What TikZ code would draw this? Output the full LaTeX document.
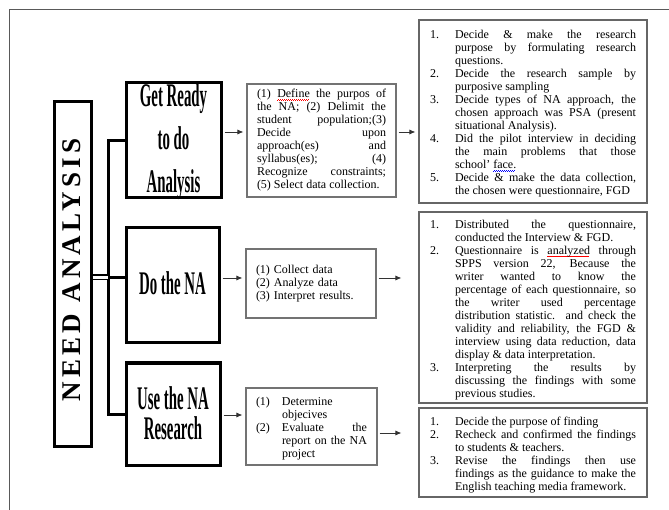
\documentclass[tikz,border=0pt]{standalone}
\usepackage{fontspec}
\setmainfont{Liberation Serif}
\newfontfamily\tallfont[FakeStretch=0.45]{Liberation Serif}
\newfontfamily\spacefont[LetterSpace=16]{Liberation Serif}
\usetikzlibrary{arrows.meta}

\hbadness=10000
\newcommand{\stepitem}[3][25pt]{\par\noindent\hangindent=#1\hangafter=1\makebox[#1][l]{#2}#3\par}
\newsavebox{\markbox}
\newcommand{\spellmark}[2]{\sbox{\markbox}{#2}\rlap{\textcolor{#1}{\lower2.6pt\hbox to \wd\markbox{%
  \leaders\hbox{\rule[0pt]{1pt}{0.6pt}\rule[0.7pt]{1pt}{0.6pt}}\hfill}}}\usebox{\markbox}}

\tikzset{
  frame/.style={draw=black!65, line width=1pt},
  bigbox/.style={draw, line width=3pt, inner sep=0pt},
  bigtxt/.style={font=\tallfont\bfseries\fontsize{33}{43}\selectfont, align=center, inner sep=0pt},
  planbox/.style={draw=black!55, line width=1.1pt, inner xsep=10pt, inner ysep=2pt,
    font=\fontsize{12}{13}\selectfont},
  stepsbox/.style={draw=black!60, line width=1.1pt, inner xsep=11pt, inner ysep=2pt,
    text width=206pt, align=justify, font=\fontsize{12}{13}\selectfont},
  conn/.style={line width=3pt},
  twin/.style={double, line width=1.8pt, double distance=2.4pt},
  arr/.style={-{Latex[length=6pt,width=5pt]}, line width=0.8pt, black!80,
    shorten <=2pt}
}

\begin{document}
\begin{tikzpicture}[x=1pt,y=-1pt]
  \useasboundingbox (0,0) rectangle (669,510);
  \draw[frame] (9,510) |- (669,10);

  % left column
  \node[bigbox, minimum width=37pt, minimum height=344pt] (na) at (72.5,274) {};
  \node[rotate=90, inner sep=0pt, font=\spacefont\bfseries\fontsize{27}{27}\selectfont]
    (natxt) at (71.5,270) {NEED ANALYSIS};

  \node[bigbox, minimum width=95pt, minimum height=115pt] (ready) at (173.5,140.5) {};
  \node[bigtxt] (readytxt) at (173.5,142) {Get Ready\\to do\\Analysis};
  \node[bigbox, minimum width=93pt, minimum height=115pt] (do) at (172.5,285.5) {};
  \node[bigtxt] (dotxt) at (172.5,283) {Do the NA};
  \node[bigbox, minimum width=94pt, minimum height=102pt] (use) at (173,414) {};
  \node[bigtxt, font=\tallfont\bfseries\fontsize{33}{30}\selectfont]
    (usetxt) at (173,413) {Use the NA\\Research};

  \coordinate (hub) at (108,277.5);
  \draw[conn] (ready.west) -| (hub) |- (use.west);
  \draw[conn] (hub) -- (do.west |- hub);
  \draw[twin] (na.east |- hub) -- (hub);

  % middle column
  \node[planbox, minimum width=149pt, minimum height=113pt, text width=129pt, align=justify]
    (plan) at (321.5,140.5) {(1) \spellmark{red}{Define} the purpos of\linebreak
      the NA; (2) Delimit the\linebreak
      student population;(3)\linebreak
      Decide upon\linebreak
      approach(es) and\linebreak
      syllabus(es); (4)\linebreak
      Recognize constraints;\linebreak
      (5) Select data collection.};
  \node[planbox, minimum width=130pt, minimum height=69pt, text width=110pt, align=left]
    (collect) at (311,283.5) {(1) Collect data\\(2) Analyze data\\(3) Interpret results.};
  \node[planbox, minimum width=131pt, minimum height=77pt, text width=111pt, align=justify]
    (apply) at (311.5,426.5) {\stepitem[26pt]{(1)}{Determine\linebreak objecives}%
      \stepitem[26pt]{(2)}{Evaluate the\linebreak report on the NA\linebreak project}};

  % right column
  \node[stepsbox, minimum height=183pt] (steps1) at (533,111.5) {%
    \stepitem{1.}{Decide \& make the research\linebreak purpose by formulating research\linebreak questions.}%
    \stepitem{2.}{Decide the research sample by\linebreak purposive sampling}%
    \stepitem{3.}{Decide types of NA approach, the\linebreak chosen approach was PSA (present\linebreak situational Analysis).}%
    \stepitem{4.}{Did the pilot interview in deciding\linebreak the main problems that those\linebreak school' \spellmark{blue}{face.}}%
    \stepitem{5.}{Decide \& make the data collection,\linebreak the chosen were questionnaire, FGD}};
  \node[stepsbox, minimum height=191pt] (steps2) at (533,307.5) {%
    \stepitem{1.}{Distributed the questionnaire,\linebreak conducted the Interview \& FGD.}%
    \stepitem{2.}{Questionnaire is \spellmark{red}{analyzed} through\linebreak SPPS version 22, Because the\linebreak
      writer wanted to know the\linebreak percentage of each questionnaire, so\linebreak
      the writer used percentage\linebreak distribution statistic. and check the\linebreak
      validity and reliability, the FGD \&\linebreak interview using data reduction, data\linebreak
      display \& data interpretation.}%
    \stepitem{3.}{Interpreting the results by\linebreak discussing the findings with some\linebreak previous studies.}};
  \node[stepsbox, minimum height=89pt] (steps3) at (533,452.5) {%
    \stepitem{1.}{Decide the purpose of finding}%
    \stepitem{2.}{Recheck and confirmed the findings\linebreak to students \& teachers.}%
    \stepitem{3.}{Revise the findings then use\linebreak findings as the guidance to make the\linebreak English teaching media framework.}};

  % arrows
  \draw[arr, shorten >=3pt] ([yshift=8.5pt]ready.east) -- ([yshift=8.5pt]plan.west);
  \draw[arr, shorten >=3pt] ([yshift=8.5pt]plan.east) -- ([yshift=-20.5pt]steps1.west);
  \draw[arr, shorten >=3pt] ([yshift=7.5pt]do.east) -- ([yshift=5.5pt]collect.west);
  \draw[arr, shorten >=17pt] ([yshift=5.5pt]collect.east) -- ([yshift=29.5pt]steps2.west);
  \draw[arr, shorten >=3pt] ([yshift=-1pt]use.east) -- ([yshift=11.5pt]apply.west);
  \draw[arr, shorten >=17pt] ([yshift=-6.5pt]apply.east) -- ([yshift=19.5pt]steps3.west);
\end{tikzpicture}
\end{document}
